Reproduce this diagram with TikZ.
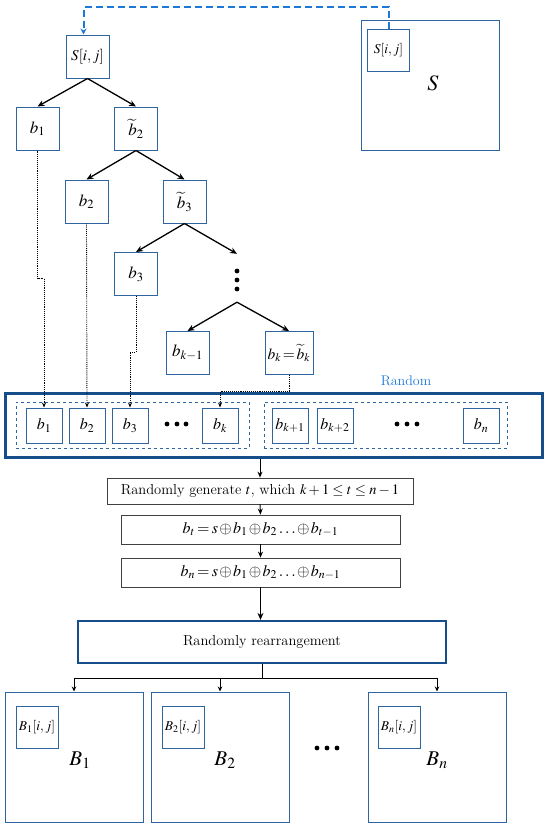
\documentclass[tikz,border=0pt]{standalone}
\usepackage{mathptmx}
\usetikzlibrary{arrows.meta, positioning, calc}
\definecolor{boxblue}{RGB}{46,100,160}
\definecolor{deepblue}{RGB}{22,78,140}
\definecolor{linkblue}{RGB}{30,120,215}
\tikzset{
  tbox/.style   = {draw=boxblue, line width=1pt, minimum width=43pt, minimum height=43pt,
                   inner sep=1pt, font=\fontsize{17}{19}\selectfont},
  ibox/.style   = {draw=boxblue, line width=1pt, minimum width=36pt, minimum height=35pt,
                   inner sep=1pt, font=\fontsize{16}{18}\selectfont},
  grp/.style    = {draw=boxblue, dashed, line width=0.8pt},
  mbox/.style   = {draw=boxblue, line width=1pt, minimum width=138pt, minimum height=130pt},
  cell/.style   = {draw=boxblue, line width=1pt, minimum size=42pt, inner sep=0pt,
                   font=\fontsize{13.5}{15}\selectfont},
  pbox/.style   = {draw=black!75, line width=0.8pt, inner sep=0pt, font=\fontsize{14.5}{16}\selectfont},
  tarrow/.style = {-{Stealth[length=7pt,width=6pt]}, line width=1.3pt},
  darrow/.style = {-{Stealth[length=5pt,width=4pt]}, densely dotted, line width=0.9pt},
  sarrow/.style = {-{Stealth[length=6pt,width=5pt]}, line width=1pt},
}
\newcommand{\tightmath}{\medmuskip=1.5mu\thickmuskip=2.5mu}
\begin{document}
\begin{tikzpicture}[x=1pt, y=-1pt]
  \useasboundingbox (0,0) rectangle (550,828);
  % secret S and the tree
  \node[mbox] (S) at (430,85.5) {};
  \node[cell] (sij) at (388.5,50) {$S[i,j]$};
  \node[font=\fontsize{22}{24}\selectfont] (slbl) at (433,83) {$S$};
  \node[tbox, font=\fontsize{15}{17}\selectfont] (Sij) at (87.5,56.5) {$S[i,j]$};
  \node[tbox] (b1) at (37.5,128.5) {$b_1$};
  \node[tbox] (b2t) at (136,128.5) {$\widetilde{b}_2$};
  \node[tbox] (b2) at (86.5,201.5) {$b_2$};
  \node[tbox] (b3t) at (184.5,201.5) {$\widetilde{b}_3$};
  \node[tbox] (b3) at (136,274) {$b_3$};
  \node[minimum width=10pt, minimum height=48pt] (vd) at (237,278) {};
  \foreach \y in {271,280,289} \fill (237,\y) circle (2.4);
  \node[tbox] (bkm) at (187.5,353) {$b_{k-1}$};
  \node[tbox, minimum width=48pt, font=\fontsize{15.5}{17}\selectfont] (bk) at (289,353) {$b_k\!=\!\widetilde{b}_k$};
  \draw[linkblue, line width=2pt, dash pattern=on 7pt off 4pt, -{Stealth[length=6pt,width=6pt]}]
    (sij.north) -- ++(0,-22) -| ([xshift=-4pt]Sij.north);
  \draw[tarrow] (Sij.south) -- (b1.north);
  \draw[tarrow] (Sij.south) -- (b2t.north);
  \draw[tarrow] (b2t.south) -- (b2.north);
  \draw[tarrow] (b2t.south) -- (b3t.north);
  \draw[tarrow] (b3t.south) -- (b3.north);
  \draw[tarrow] (b3t.south) -- (vd.north);
  \draw[tarrow] (vd.south) -- (bkm.north);
  \draw[tarrow] (vd.south) -- (bk.north);
  % shares
  \node[draw=deepblue, line width=3pt, minimum width=537pt, minimum height=64pt] (rand) at (273.5,425) {};
  \node[text=linkblue, font=\fontsize{14}{16}\selectfont] (rlbl) at (406,381) {Random};
  \node[grp, minimum width=233pt, minimum height=46pt] (gl) at (132.5,425) {};
  \node[grp, minimum width=243pt, minimum height=46pt] (gr) at (385.5,425) {};
  \node[ibox] (ib1) at (44,425.5) {$b_1$};
  \node[ibox] (ib2) at (87,425.5) {$b_2$};
  \node[ibox] (ib3) at (130,425.5) {$b_3$};
  \foreach \x in {167,177,186} \fill (\x,424) circle (2.4);
  \node[ibox] (ibk) at (220,425.5) {$b_k$};
  \node[ibox] (ibk1) at (290,425.5) {$b_{k+1}$};
  \node[ibox] (ibk2) at (335,425.5) {$b_{k+2}$};
  \foreach \x in {397,407,417} \fill (\x,424) circle (2.4);
  \node[ibox] (ibn) at (481,425.5) {$b_n$};
  \draw[darrow] (b1.south) -- ++(0,128) -| (ib1.north);
  \draw[darrow] (b2.south) -- (ib2.north);
  \draw[darrow] (b3.south) -- ++(0,56) -| (ib3.north);
  \draw[darrow] (bk.south) -- ++(0,16) -| (ibk.north);
  % steps
  \node[pbox, minimum width=306pt, minimum height=26pt] (gen) at (260,491)
    {Randomly generate $t$, which $k+1\le t\le n-1$};
  \node[pbox, minimum width=279pt, minimum height=29pt, font=\fontsize{16}{18}\selectfont] (bt) at (260.5,529.5)
    {\tightmath$b_t=s\oplus b_1\oplus b_2\ldots\oplus b_{t-1}$};
  \node[pbox, minimum width=279pt, minimum height=29pt, font=\fontsize{16}{18}\selectfont] (bn) at (260.5,572.5)
    {\tightmath$b_n=s\oplus b_1\oplus b_2\ldots\oplus b_{n-1}$};
  \node[draw=deepblue, line width=2.2pt, minimum width=368pt, minimum height=42pt,
        font=\fontsize{14.5}{16}\selectfont] (rearr) at (262,642) {Randomly rearrangement};
  \draw[sarrow] (gen.north |- rand.south) -- (gen.north);
  \draw[sarrow] (gen.south) -- (bt.north);
  \draw[sarrow] (bt.south) -- (bn.north);
  \draw[tarrow] (bn.south) -- (bn.south |- rearr.north);
  % the new matrices
  \node[mbox] (B1) at (74,757) {};
  \node[mbox] (B2) at (220,757) {};
  \node[mbox] (Bn) at (437,757) {};
  \node[cell] (c1) at (37,727) {$B_1[i,j]$};
  \node[cell] (c2) at (183,727) {$B_2[i,j]$};
  \node[cell] (cn) at (399,727) {$B_n[i,j]$};
  \node[font=\fontsize{21}{23}\selectfont] (l1) at (80,760) {$B_1$};
  \node[font=\fontsize{21}{23}\selectfont] (l2) at (225,760) {$B_2$};
  \node[font=\fontsize{21}{23}\selectfont] (ln) at (437,760) {$B_n$};
  \foreach \x in {317,327,337} \fill (\x,748) circle (2.4);
  \coordinate (split) at (rearr.south |- 0,678);
  \draw[line width=0.8pt] (rearr.south) -- (split);
  \foreach \n in {B1,B2,Bn}
    \draw[line width=0.8pt, -{Stealth[length=5pt,width=4.5pt]}] (split) -| (\n.north);
\end{tikzpicture}
\end{document}
